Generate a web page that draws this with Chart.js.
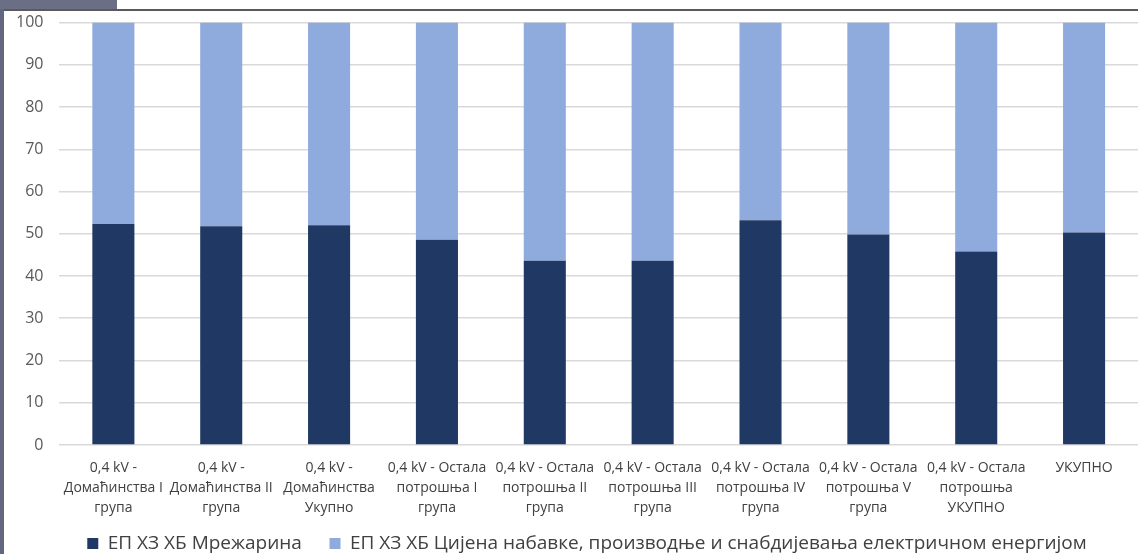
<!DOCTYPE html>
<html>
<head>
<meta charset="utf-8">
<script src="https://cdn.jsdelivr.net/npm/chart.js@4/dist/chart.umd.min.js"></script>
<style>
    html, body { margin: 0; padding: 0; background: #fff; width: 1138px; height: 554px; overflow: hidden; }
    .side { position: absolute; z-index: 2; left: 0; top: 0; width: 4px; height: 554px; background: #62667f; }
    .corner { position: absolute; z-index: 2; left: 0; top: 0; width: 117px; height: 9px; background: #6b6f86; }
    .edge { position: absolute; z-index: 2; left: 4px; top: 9px; width: 1134px; height: 2px; background: #5a5a5a; }
    .box { position: absolute; z-index: 1; left: 0; top: -3px; width: 1138px; height: 566px; }
</style>
</head>
<body>
<div class="side"></div>
<div class="corner"></div>
<div class="edge"></div>
<div class="box"><canvas id="chart" width="1138" height="566"></canvas></div>
<script>
const categories = [
    ['0,4 kV -', 'Домаћинства I', 'група'],
    ['0,4 kV -', 'Домаћинства II', 'група'],
    ['0,4 kV -', 'Домаћинства', 'Укупно'],
    ['0,4 kV - Остала', 'потрошња I', 'група'],
    ['0,4 kV - Остала', 'потрошња II', 'група'],
    ['0,4 kV - Остала', 'потрошња III', 'група'],
    ['0,4 kV - Остала', 'потрошња IV', 'група'],
    ['0,4 kV - Остала', 'потрошња V', 'група'],
    ['0,4 kV - Остала', 'потрошња', 'УКУПНО'],
    'УКУПНО'
];
const seriesNames = [
    'ЕП ХЗ ХБ Мрежарина',
    'ЕП ХЗ ХБ Цијена набавке, производње и снабдијевања електричном енергијом'
];
const networkShare = [52.3, 51.8, 52.0, 48.6, 43.6, 43.6, 53.2, 49.8, 45.8, 50.3];
const supplyShare = [47.7, 48.2, 48.0, 51.4, 56.4, 56.4, 46.8, 50.2, 54.2, 49.7];
const yTicks = [0, 10, 20, 30, 40, 50, 60, 70, 80, 90, 100];

const FONT = "'Open Sans', 'DejaVu Sans', sans-serif";

// Excel puts the legend a bit right of centre
const legendShift = {
    id: 'legendShift',
    afterLayout: chart => { chart.legend.left += 36; }
};

new Chart(document.getElementById('chart'), {
    type: 'bar',
    data: {
        labels: categories,
        datasets: [
            { label: seriesNames[0], data: networkShare, backgroundColor: '#203864', borderWidth: 0 },
            { label: seriesNames[1], data: supplyShare, backgroundColor: '#8faadc', borderWidth: 0 }
        ]
    },
    options: {
        responsive: false,
        animation: false,
        devicePixelRatio: 1,
        datasets: { bar: { barPercentage: 0.39, categoryPercentage: 1 } },
        layout: { padding: 0 },
        scales: {
            x: {
                stacked: true,
                grid: { display: false, drawTicks: false },
                border: { display: false },
                ticks: { color: '#404040', font: { family: FONT, size: 14, lineHeight: 1.43 }, padding: 13, maxRotation: 0, autoSkip: false }
            },
            y: {
                stacked: true,
                min: 0,
                max: 100,
                afterBuildTicks: axis => { axis.ticks = yTicks.map(v => ({ value: v })); },
                grid: { color: '#d9d9d9', lineWidth: 1.5, drawTicks: false },
                border: { display: false },
                ticks: { color: '#595959', font: { family: FONT, size: 16 }, padding: 16 }
            }
        },
        plugins: {
            legend: {
                position: 'bottom',
                labels: {
                    color: '#404040',
                    font: { family: FONT, size: 19 },
                    boxWidth: 11,
                    boxHeight: 11,
                    padding: 3,
                    generateLabels: chart => {
                        const items = Chart.defaults.plugins.legend.labels.generateLabels(chart);
                        items[0].text = items[0].text + '     ';
                        return items;
                    }
                }
            },
            tooltip: { enabled: false }
        }
    },
    plugins: [legendShift]
});
</script>
</body>
</html>
